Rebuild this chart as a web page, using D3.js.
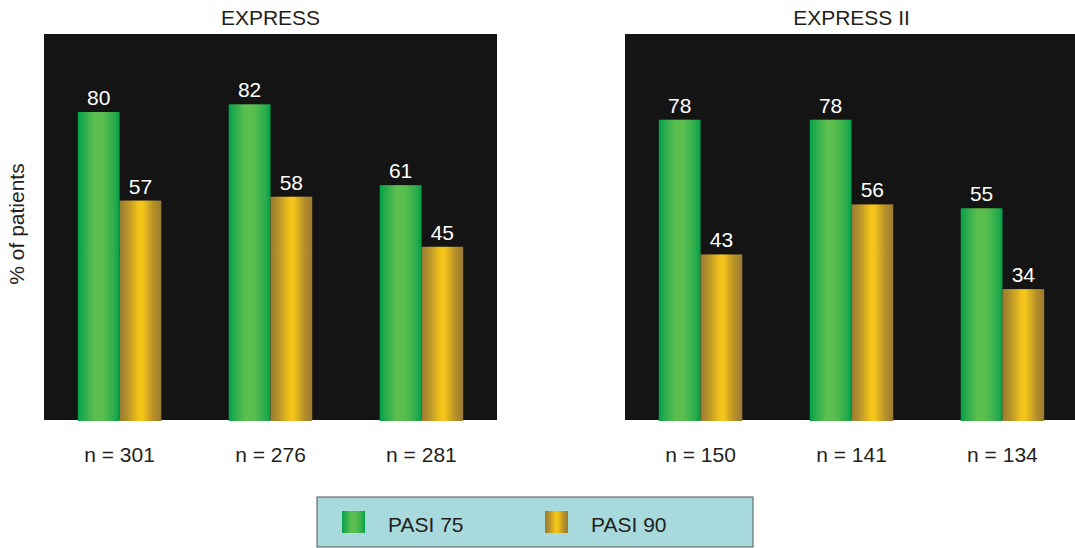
<!DOCTYPE html>
<html>
<head>
<meta charset="utf-8">
<script src="https://cdn.jsdelivr.net/npm/d3@7"></script>
<style>
  html, body { margin: 0; padding: 0; background: #fff; }
  svg { display: block; font-family: "Liberation Sans", Arial, Helvetica, sans-serif; }
</style>
</head>
<body>
<svg id="chart" width="1075" height="548"></svg>
<script>
// Study names (panel titles)
const studies = ["EXPRESS", "EXPRESS II"];

// Group labels under each pair of bars
const expressGroups = ["n = 301", "n = 276", "n = 281"];
const express2Groups = ["n = 150", "n = 141", "n = 134"];

// % of patients reaching each response level
const expressPasi75 = [80, 82, 61];
const expressPasi90 = [57, 58, 45];
const express2Pasi75 = [78, 78, 55];
const express2Pasi90 = [43, 56, 34];

// Series names
const seriesNames = ["PASI 75", "PASI 90"];

const panels = [
  { title: studies[0], groups: expressGroups, values: [expressPasi75, expressPasi90], x0: 44, x1: 497 },
  { title: studies[1], groups: express2Groups, values: [express2Pasi75, express2Pasi90], x0: 625, x1: 1078 }
];

const svg = d3.select("#chart");
const plotTop = 34, plotBottom = 420;
const textColor = "#231f20";
const fontSize = 21;

// Horizontal shading that gives the bars their rounded look
const defs = svg.append("defs");
const green = defs.append("linearGradient").attr("id", "gGreen")
  .attr("x1", "0%").attr("x2", "100%");
[["0%", "#00a14b"], ["10%", "#1fa84c"], ["40%", "#5cbf50"], ["60%", "#5abe4f"], ["88%", "#2aac4c"], ["100%", "#00a04a"]]
  .forEach(([o, c]) => green.append("stop").attr("offset", o).attr("stop-color", c));
const gold = defs.append("linearGradient").attr("id", "gGold")
  .attr("x1", "0%").attr("x2", "100%");
[["0%", "#9a7a32"], ["20%", "#b8952a"], ["45%", "#f2c21a"], ["55%", "#f4c61a"], ["80%", "#b89128"], ["100%", "#9a7a32"]]
  .forEach(([o, c]) => gold.append("stop").attr("offset", o).attr("stop-color", c));
const fills = ["url(#gGreen)", "url(#gGold)"];

const y = d3.scaleLinear().domain([0, 100]).range([plotBottom, 35]);

panels.forEach(p => {
  const g = svg.append("g");

  // Panel background
  g.append("rect")
    .attr("x", p.x0).attr("y", plotTop)
    .attr("width", p.x1 - p.x0).attr("height", plotBottom - plotTop)
    .attr("fill", "#141414");

  // Title
  g.append("text")
    .attr("x", (p.x0 + p.x1) / 2).attr("y", 25)
    .attr("text-anchor", "middle")
    .attr("font-size", fontSize).attr("fill", textColor)
    .text(p.title);

  const x = d3.scaleBand().domain(p.groups).range([p.x0, p.x1])
    .paddingInner(0.447).paddingOuter(0.224);
  const xs = d3.scaleBand().domain(seriesNames).range([0, x.bandwidth()]);

  p.groups.forEach((grp, i) => {
    seriesNames.forEach((s, si) => {
      const v = p.values[si][i];
      const bx = x(grp) + xs(s);
      g.append("rect")
        .attr("x", bx).attr("y", y(v))
        .attr("width", xs.bandwidth()).attr("height", y(0) - y(v) + 1)
        .attr("fill", fills[si]);
      g.append("text")
        .attr("x", bx + xs.bandwidth() / 2).attr("y", y(v) - 7)
        .attr("text-anchor", "middle")
        .attr("font-size", fontSize).attr("fill", "#ffffff")
        .text(v);
    });
    // Group label
    g.append("text")
      .attr("x", x(grp) + x.bandwidth() / 2).attr("y", 462)
      .attr("text-anchor", "middle")
      .attr("font-size", fontSize).attr("fill", textColor)
      .text(grp);
  });
});

// Y axis title
svg.append("text")
  .attr("transform", "translate(24,224) rotate(-90)")
  .attr("text-anchor", "middle")
  .attr("font-size", fontSize).attr("fill", textColor)
  .text("% of patients");

// Legend
const legend = svg.append("g");
legend.append("rect")
  .attr("x", 317).attr("y", 497).attr("width", 436).attr("height", 50)
  .attr("fill", "#a8dadd").attr("stroke", "#555").attr("stroke-width", 1);
const legendX = [342, 545];
seriesNames.forEach((s, i) => {
  legend.append("rect")
    .attr("x", legendX[i]).attr("y", 511).attr("width", 23).attr("height", 22)
    .attr("fill", fills[i]);
  legend.append("text")
    .attr("x", legendX[i] + 46).attr("y", 532)
    .attr("font-size", fontSize).attr("fill", textColor)
    .text(s);
});
</script>
</body>
</html>
